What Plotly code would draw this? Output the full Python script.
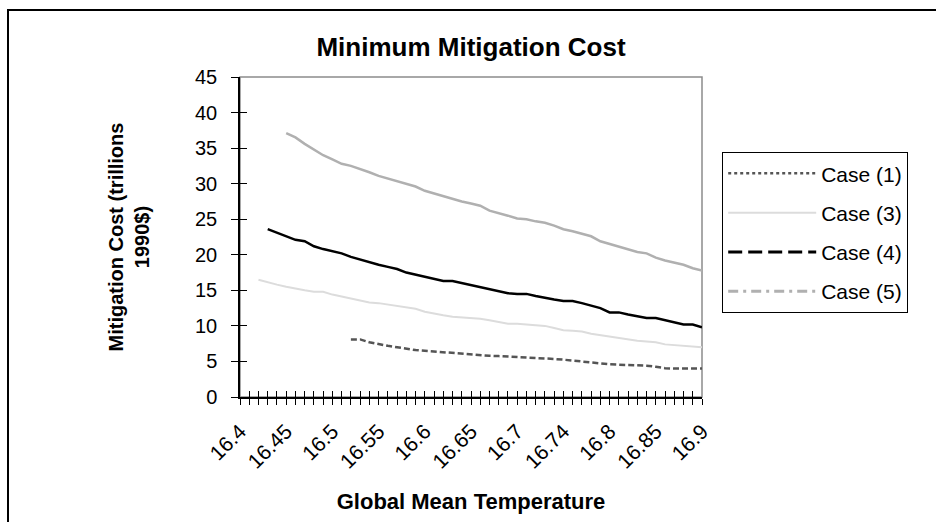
import plotly.graph_objects as go

# ---------------- data ----------------
temps = [16.40, 16.41, 16.42, 16.43, 16.44, 16.45, 16.46, 16.47, 16.48, 16.49,
         16.50, 16.51, 16.52, 16.53, 16.54, 16.55, 16.56, 16.57, 16.58, 16.59,
         16.60, 16.61, 16.62, 16.63, 16.64, 16.65, 16.66, 16.67, 16.68, 16.69,
         16.70, 16.71, 16.72, 16.73, 16.74, 16.75, 16.76, 16.77, 16.78, 16.79,
         16.80, 16.81, 16.82, 16.83, 16.84, 16.85, 16.86, 16.87, 16.88, 16.89,
         16.90]

tick_values = [16.40, 16.45, 16.50, 16.55, 16.60, 16.65, 16.70, 16.75, 16.80, 16.85, 16.90]
tick_labels = ["16.4", "16.45", "16.5", "16.55", "16.6", "16.65", "16.7", "16.74", "16.8", "16.85", "16.9"]

# values (series begin at different temperatures)
case1 = [8.1, 8.1, 7.7, 7.4, 7.2, 7.0, 6.75, 6.6, 6.5, 6.4, 6.25, 6.1, 6.0, 5.9, 5.85,
         5.8, 5.75, 5.7, 5.55, 5.5, 5.45, 5.4, 5.35, 5.25, 5.1, 4.95, 4.8, 4.65, 4.6,
         4.55, 4.5, 4.5, 4.4, 4.25, 4.05, 4.0, 4.0, 4.0, 4.0]
case3 = [16.5, 16.1, 15.8, 15.5, 15.2, 15.0, 14.8, 14.8, 14.4, 14.1, 13.8, 13.6, 13.3,
         13.2, 13.0, 12.7, 12.5, 12.4, 12.0, 11.7, 11.5, 11.3, 11.2, 11.15, 11.0, 10.8,
         10.6, 10.3, 10.3, 10.2, 10.1, 10.0, 9.7, 9.4, 9.3, 9.2, 8.9, 8.7, 8.4, 8.2, 8.1,
         7.9, 7.8, 7.7, 7.4, 7.3, 7.2, 7.1, 7.0]
case4 = [23.6, 23.1, 22.5, 22.1, 21.9, 21.2, 20.8, 20.5, 20.2, 19.7, 19.3, 18.9, 18.6,
         18.3, 18.0, 17.5, 17.2, 16.9, 16.6, 16.3, 16.3, 16.0, 15.7, 15.5, 15.2, 14.9,
         14.6, 14.5, 14.5, 14.2, 13.9, 13.7, 13.5, 13.5, 13.2, 12.8, 12.5, 11.9, 11.9,
         11.6, 11.3, 11.1, 11.1, 10.8, 10.5, 10.2, 10.2, 9.8]
case5 = [37.1, 36.5, 35.6, 34.8, 34.0, 33.4, 32.8, 32.5, 32.1, 31.6, 31.1, 30.7, 30.4,
         29.9, 29.6, 29.0, 28.6, 28.2, 27.8, 27.5, 27.2, 26.9, 26.2, 25.9, 25.5, 25.1,
         25.0, 24.7, 24.5, 24.1, 23.6, 23.3, 23.0, 22.6, 21.9, 21.5, 21.1, 20.7, 20.4,
         20.2, 19.6, 19.2, 18.9, 18.6, 18.1, 17.8]

series_names = ["Case (1)", "Case (3)", "Case (4)", "Case (5)"]


def pad(vals):
    """Series end at 16.9; leading temperatures have no value."""
    return [None] * (len(temps) - len(vals)) + vals


# ---------------- styles ----------------
FONT = "Liberation Sans, Arial, sans-serif"
W, H = 936, 522
L, R, T, B = 240, 234, 77, 125

plot_styles = [
    dict(color="#555555", width=2.5, dash="6px,3px"),
    dict(color="#dcdcdc", width=2, dash="solid"),
    dict(color="#000000", width=2.5, dash="solid"),
    dict(color="#b0b0b0", width=2.5, dash="solid"),
]
legend_styles = [
    dict(color="#555555", width=2.5, dash="3px,3px"),
    dict(color="#dcdcdc", width=2, dash="solid"),
    dict(color="#000000", width=3, dash="14px,6px"),
    dict(color="#b0b0b0", width=3, dash="10px,5px,3px,5px"),
]

fig = go.Figure()
for name, vals, st in zip(series_names, [case1, case3, case4, case5], plot_styles):
    fig.add_trace(go.Scatter(x=temps, y=pad(vals), mode="lines", name=name,
                             line=st, showlegend=False, connectgaps=False))
# legend entries (Excel legend shows the nominal dash patterns); placed on the
# overlay axes so that those axes (inner half of the crossing ticks) are drawn
for i, (name, st) in enumerate(zip(series_names, legend_styles)):
    fig.add_trace(go.Scatter(x=[None], y=[None], mode="lines", name=name, line=st,
                             legendgroup=f"g{i}", showlegend=True,
                             xaxis="x2", yaxis="y2"))

pw = W - L - R
ph = H - T - B


def px_to_paper_x(px):
    return (px - L) / pw


def px_to_paper_y(py):
    return (H - B - py) / ph


fig.update_layout(
    width=W, height=H,
    margin=dict(l=L, r=R, t=T, b=B, pad=0, autoexpand=False),
    paper_bgcolor="white", plot_bgcolor="white",
    font=dict(family=FONT, color="black", size=20),
    title=dict(text="<b>Minimum Mitigation Cost</b>", x=471 / W, xanchor="center",
               xref="container", y=1 - 47 / H, yanchor="middle", yref="container",
               font=dict(size=26, family=FONT, color="black")),
    xaxis=dict(range=[temps[0], temps[-1]], tickmode="array", tickvals=temps,
               ticktext=[tick_labels[tick_values.index(t)] if t in tick_values else "" for t in temps],
               ticks="outside", ticklen=6, tickwidth=1.2, tickcolor="black",
               tickangle=-45, showline=True, linecolor="black", linewidth=1.5,
               showgrid=False, zeroline=False, tickfont=dict(size=21),
               ticklabelstandoff=6, automargin=False,
               title=dict(text="<b>Global Mean Temperature</b>", standoff=22,
                          font=dict(size=22))),
    xaxis2=dict(range=[temps[0], temps[-1]], overlaying="x", side="bottom",
                anchor="y", tickmode="array", tickvals=temps, ticks="inside", ticklen=6,
                tickwidth=1.2, tickcolor="black", showticklabels=False,
                showline=False, showgrid=False, zeroline=False, automargin=False),
    yaxis=dict(range=[0, 45], dtick=5, tick0=0, ticks="outside", ticklen=7,
               tickwidth=1.2, tickcolor="black", showline=True, linecolor="black",
               linewidth=1.5, showgrid=False, zeroline=False, ticklabelstandoff=10,
               tickfont=dict(size=20), automargin=False,
               title=dict(text="<b>Mitigation Cost (trillions<br>1990$)</b>",
                          standoff=40, font=dict(size=20))),
    yaxis2=dict(range=[0, 45], dtick=5, tick0=0, overlaying="y", side="left",
                anchor="x", ticks="inside", ticklen=7, tickwidth=1.2, tickcolor="black",
                showticklabels=False, showline=False, showgrid=False, zeroline=False,
                automargin=False),
    legend=dict(x=px_to_paper_x(722), xanchor="left", y=px_to_paper_y(152), yanchor="top",
                bgcolor="white", bordercolor="black", borderwidth=1.2,
                font=dict(size=21, family=FONT), itemwidth=88, tracegroupgap=9,
                traceorder="grouped"),
    shapes=[
        # plot-area frame (grey top/right edges)
        dict(type="rect", xref="paper", yref="paper", x0=0, y0=0, x1=1, y1=1,
             line=dict(color="#8c8c8c", width=1.5), layer="below"),
        # outer chart frame
        dict(type="rect", xref="paper", yref="paper",
             x0=px_to_paper_x(8), x1=px_to_paper_x(W + 20),
             y0=px_to_paper_y(H + 20), y1=px_to_paper_y(10),
             line=dict(color="black", width=2), layer="below"),
    ],
)

fig.write_html("out.html")
